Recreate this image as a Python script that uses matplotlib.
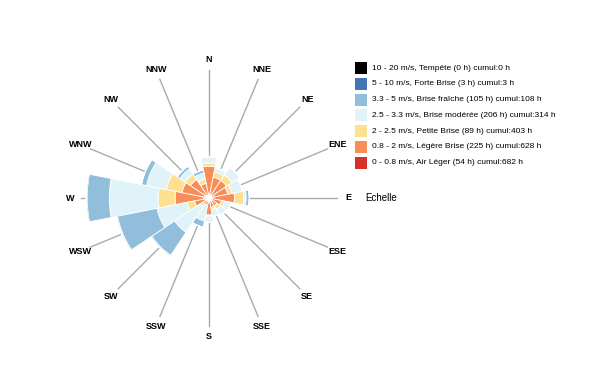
import matplotlib
matplotlib.use("Agg")
import matplotlib.pyplot as plt
import numpy as np
from matplotlib.patches import Rectangle

plt.rcParams["font.family"] = ["Liberation Sans", "DejaVu Sans"]

# wind directions, clockwise from north
directions = ["N", "NNE", "NE", "ENE", "E", "ESE", "SE", "SSE",
              "S", "SSW", "SW", "WSW", "W", "WNW", "NW", "NNW"]

# hours per direction for each speed class (inner class first)
air_leger = [4, 3, 3, 3, 4, 3, 3, 3, 4, 3, 3, 4, 5, 4, 3, 2]
legere_brise = [26, 17, 17, 15, 20, 9, 6, 6, 12, 4, 4, 10, 27, 22, 18, 12]
petite_brise = [3, 5, 6, 4, 9, 3, 4, 2, 1, 1, 3, 7, 16, 15, 6, 4]
brise_moderee = [6, 4, 9, 10, 2, 6, 7, 7, 6, 14, 29, 29, 46, 19, 6, 6]
brise_fraiche = [0, 0, 0, 0, 3, 0, 0, 0, 0, 6, 26, 38, 21, 5, 3, 3]
forte_brise = [0, 0, 0, 0, 0, 0, 0, 0, 0, 0, 1, 1, 1, 0, 0, 0]
tempete = [0] * 16

classes = ["0 - 0.8 m/s, Air Léger", "0.8 - 2 m/s, Légère Brise",
           "2 - 2.5 m/s, Petite Brise", "2.5 - 3.3 m/s, Brise modérée",
           "3.3 - 5 m/s, Brise fraîche", "5 - 10 m/s, Forte Brise",
           "10 - 20 m/s, Tempête"]
series = [air_leger, legere_brise, petite_brise, brise_moderee,
          brise_fraiche, forte_brise, tempete]
colors = ["#d73027", "#f88d57", "#fee090", "#e0f3f8",
          "#91bfdb", "#4575b4", "#000000"]

W, H = 600, 389
cx, cy, rpx = 209, 198, 140  # rose center and radius in pixels
rmax = 132

fig = plt.figure(figsize=(W / 100, H / 100), dpi=100)
ax = fig.add_axes([(cx - rpx) / W, (H - cy - rpx) / H, 2 * rpx / W, 2 * rpx / H],
                  projection="polar")
ax.set_theta_zero_location("N")
ax.set_theta_direction(-1)
ax.set_ylim(0, rmax)
ax.axis("off")

theta = np.arange(16) * 2 * np.pi / 16
width = 2 * np.pi / 16

# spokes to the labels
for t in theta:
    ax.plot([t, t], [0, 121], color="#aaaaaa", lw=1, zorder=1)

bottom = np.zeros(16)
for vals, col in zip(series, colors):
    vals = np.array(vals, dtype=float)
    ax.bar(theta, vals, width=width, bottom=bottom, color=col,
           edgecolor="white", linewidth=0.6, zorder=2)
    bottom += vals

ax.bar(theta, 2.5, width=width, color="white", edgecolor="white", zorder=3)

for t, name in zip(theta, directions):
    ax.text(t, 131, name, ha="center", va="center", fontsize=6.5,
            fontweight="bold", clip_on=False)

# legend, top row is the fastest class
row0, step = 68, 15.8
cumul = 0
totals = [sum(v) for v in series]
cumuls = []
for tot in reversed(totals):
    cumul += tot
    cumuls.append(cumul)
cumuls = cumuls[::-1]
for i, k in enumerate(range(len(classes) - 1, -1, -1)):
    y = row0 + i * step
    fig.patches.append(Rectangle((355 / W, (H - y - 6) / H), 12 / W, 12 / H,
                                 transform=fig.transFigure, facecolor=colors[k],
                                 edgecolor="none"))
    label = f"{classes[k]} ({totals[k]} h) cumul:{cumuls[k]} h"
    fig.text(372 / W, (H - y) / H, label, fontsize=6, va="center", ha="left")

fig.text(365 / W, (H - 198) / H, "Echelle", fontsize=7, va="center", ha="left")

fig.savefig("out.png", dpi=100)
